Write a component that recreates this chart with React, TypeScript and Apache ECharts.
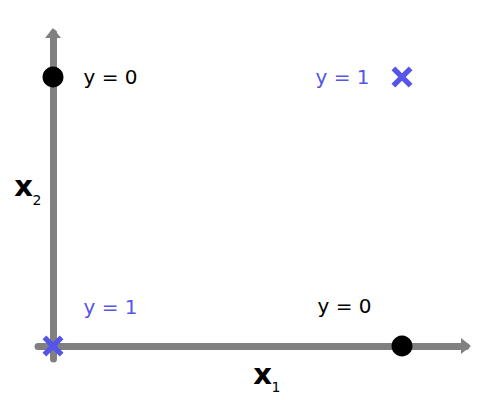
import React, { useEffect, useRef } from "react";
import * as echarts from "echarts";

// Data: XOR truth table points
const x1Values = [0, 0, 1, 1];
const x2Values = [0, 1, 0, 1];
const yClass = [1, 0, 0, 1];
const labelPrefix = "y = ";

const BLUE = "#5555e8";
const GRAY = "#808080";
const FONT = "DejaVu Sans";

const CROSS =
  "path://M1.8,0 L5,3.2 L8.2,0 L10,1.8 L6.8,5 L10,8.2 L8.2,10 L5,6.8 L1.8,10 L0,8.2 L3.2,5 L0,1.8 Z";

// label placement per point index (style only)
const labelPlace: Record<number, { position: string; distance: number; offset: number[] }> = {
  0: { position: "right", distance: 20, offset: [0, -39] },
  1: { position: "right", distance: 20, offset: [0, 0] },
  2: { position: "left", distance: 20, offset: [0, -40] },
  3: { position: "left", distance: 22, offset: [0, 0] },
};

function buildSeriesData(cls: number) {
  const out: any[] = [];
  for (let i = 0; i < x1Values.length; i++) {
    if (yClass[i] !== cls) continue;
    const p = labelPlace[i];
    out.push({
      value: [x1Values[i], x2Values[i]],
      label: {
        show: true,
        formatter: labelPrefix + yClass[i],
        position: p.position,
        distance: p.distance,
        offset: p.offset,
      },
    });
  }
  return out;
}

export default function App() {
  const ref = useRef<HTMLDivElement>(null);
  useEffect(() => {
    if (!ref.current) return;
    const chart = echarts.init(ref.current, undefined, { renderer: "svg" });
    const axisCommon = {
      type: "value",
      axisTick: { show: false },
      axisLabel: { show: false },
      splitLine: { show: false },
      axisLine: {
        show: true,
        onZero: true,
        symbol: ["none", "triangle"],
        symbolSize: [16, 10],
        lineStyle: { color: GRAY, width: 7 },
      },
    };
    chart.setOption({
      animation: false,
      backgroundColor: "#ffffff",
      grid: { left: 38, right: 34, top: 33, bottom: 41 },
      xAxis: { ...axisCommon, min: -0.043, max: 1.1834 },
      yAxis: { ...axisCommon, min: -0.0483, max: 1.1636 },
      series: [
        {
          type: "scatter",
          name: "y = 0",
          symbol: "circle",
          symbolSize: 21,
          itemStyle: { color: "#000000", opacity: 1 },
          label: { color: "#000000", fontSize: 20, fontFamily: FONT },
          data: buildSeriesData(0),
          z: 5,
        },
        {
          type: "scatter",
          name: "y = 1",
          symbol: CROSS,
          symbolSize: 21,
          itemStyle: { color: BLUE, opacity: 1 },
          label: { color: BLUE, fontSize: 20, fontFamily: FONT },
          data: buildSeriesData(1),
          z: 5,
        },
      ],
      graphic: [
        {
          type: "text",
          x: 262.5,
          y: 373.5,
          style: {
            text: "x",
            fill: "#000",
            fontSize: 29,
            fontWeight: "bold",
            fontFamily: FONT,
            align: "center",
            verticalAlign: "middle",
          },
        },
        {
          type: "text",
          x: 276,
          y: 386.5,
          style: {
            text: "1",
            fill: "#000",
            fontSize: 14,
            fontFamily: FONT,
            align: "center",
            verticalAlign: "middle",
          },
        },
        {
          type: "text",
          x: 23.5,
          y: 185.5,
          style: {
            text: "x",
            fill: "#000",
            fontSize: 29,
            fontWeight: "bold",
            fontFamily: FONT,
            align: "center",
            verticalAlign: "middle",
          },
        },
        {
          type: "text",
          x: 37,
          y: 199.5,
          style: {
            text: "2",
            fill: "#000",
            fontSize: 14,
            fontFamily: FONT,
            align: "center",
            verticalAlign: "middle",
          },
        },
      ],
    });
    return () => chart.dispose();
  }, []);
  return (
    <div
      ref={ref}
      style={{ position: "fixed", left: 0, top: 0, width: 500, height: 400, background: "#fff" }}
    />
  );
}
